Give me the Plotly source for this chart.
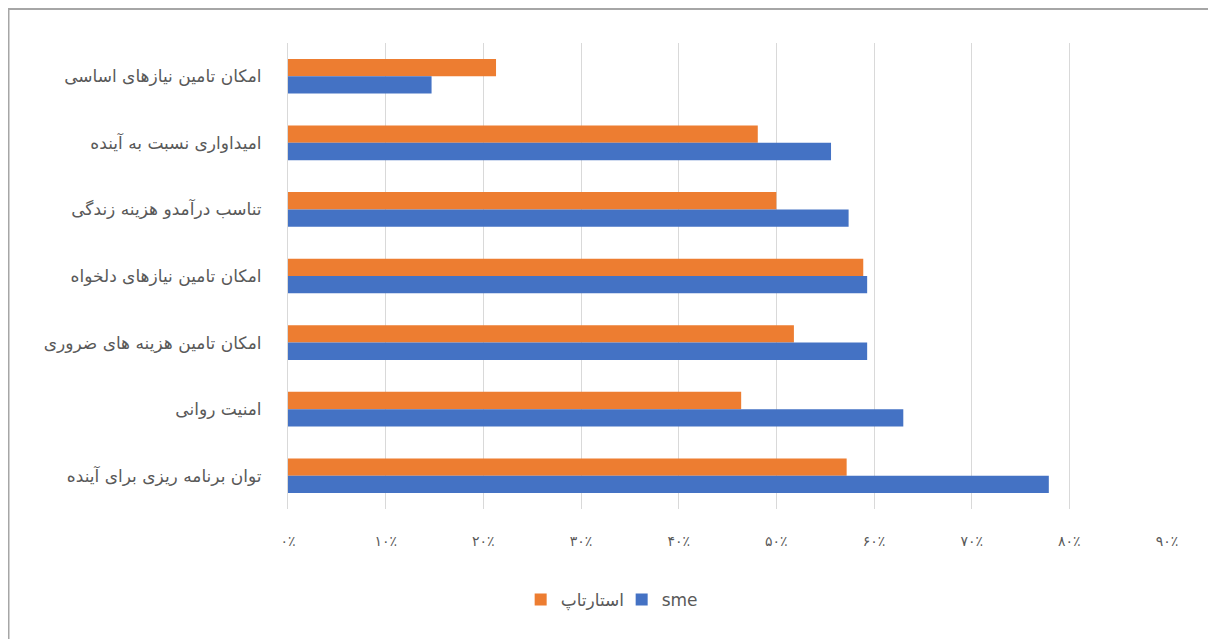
import plotly.graph_objects as go

categories = [
    "امکان تامین نیازهای اساسی",
    "امیداواری نسبت به آینده",
    "تناسب درآمدو هزینه زندگی",
    "امکان تامین نیازهای دلخواه",
    "امکان تامین هزینه های ضروری",
    "امنیت روانی",
    "توان برنامه ریزی برای آینده",
]
startup_values = [0.213, 0.481, 0.500, 0.589, 0.518, 0.464, 0.572]
sme_values = [0.147, 0.556, 0.574, 0.593, 0.593, 0.630, 0.779]
series_names = ["استارتاپ", "sme"]
tick_values = [0, 0.1, 0.2, 0.3, 0.4, 0.5, 0.6, 0.7, 0.8, 0.9]
tick_labels = ["۰٪", "۱۰٪", "۲۰٪", "۳۰٪", "۴۰٪", "۵۰٪", "۶۰٪", "۷۰٪", "۸۰٪", "۹۰٪"]

ORANGE = "#ED7D31"
BLUE = "#4472C4"
FONT = "DejaVu Sans, Noto Sans, sans-serif"

W, H = 1208, 631
L, R, T, B = 280, 49, 35, 130
PW, PH = W - L - R, H - T - B

fig = go.Figure()
fig.add_trace(go.Bar(y=categories, x=startup_values, orientation="h",
                     name=series_names[0], marker=dict(color=ORANGE, line=dict(width=0))))
fig.add_trace(go.Bar(y=categories, x=sme_values, orientation="h",
                     name=series_names[1], marker=dict(color=BLUE, line=dict(width=0))))

fig.update_layout(
    width=W, height=H,
    paper_bgcolor="white", plot_bgcolor="white",
    margin=dict(l=L, r=R, t=T, b=B),
    barmode="group", bargap=0.48, bargroupgap=0,
    font=dict(family=FONT, color="#595959", size=14),
    showlegend=True,
    legend=dict(orientation="h", xref="container", yref="container",
                x=0.508, xanchor="center", y=(H - 592) / H, yanchor="middle",
                font=dict(size=17, color="#595959"), itemwidth=30,
                entrywidth=56, entrywidthmode="pixels",
                traceorder="normal"),
    xaxis=dict(range=[0, 0.9], tickvals=tick_values, ticktext=tick_labels,
               showgrid=True, gridcolor="#d9d9d9", gridwidth=1,
               zeroline=False, showline=False, ticks="",
               ticklabelstandoff=22,
               tickfont=dict(size=14, color="#595959")),
    yaxis=dict(autorange="reversed", showgrid=False, zeroline=False,
               showline=True, linecolor="#d9d9d9", linewidth=1,
               ticks="", ticklabelstandoff=22,
               tickfont=dict(size=17, color="#595959")),
)

# outer frame (top and left edges visible in the reference)
fig.add_shape(type="line", xref="paper", yref="paper",
              x0=(0 - L) / PW, x1=(W + 10 - L) / PW,
              y0=1 + (T - 1) / PH, y1=1 + (T - 1) / PH,
              line=dict(color="#a6a6a6", width=2))
fig.add_shape(type="line", xref="paper", yref="paper",
              x0=(0.5 - L) / PW, x1=(0.5 - L) / PW,
              y0=1 + (T - 1) / PH, y1=-(B + 10) / PH,
              line=dict(color="#a6a6a6", width=2))

fig.write_html("out.html")
